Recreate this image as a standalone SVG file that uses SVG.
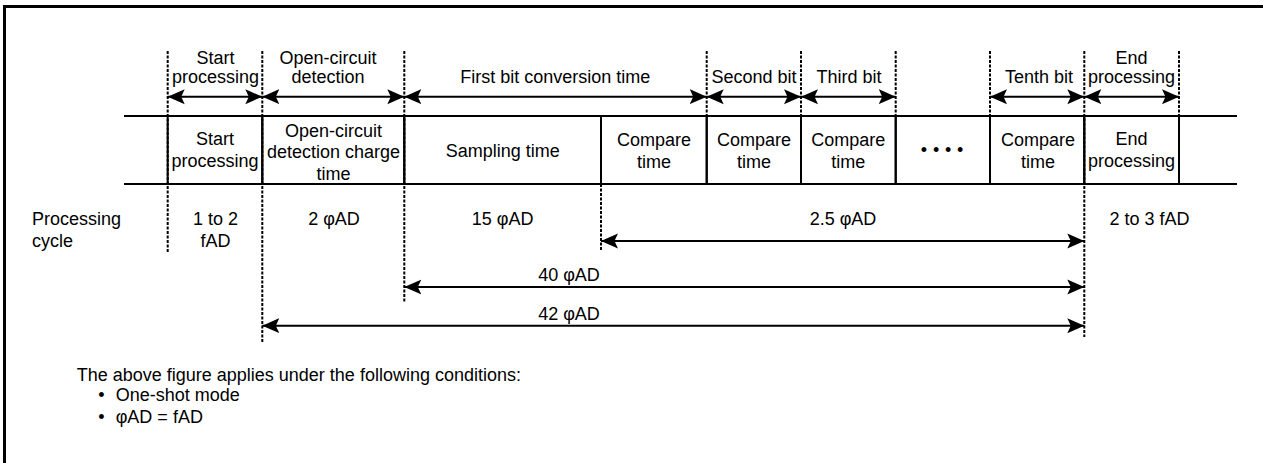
<svg xmlns="http://www.w3.org/2000/svg" width="1263" height="463" viewBox="0 0 1263 463">
<defs>
<style>
text{font-family:"Liberation Sans",Arial,sans-serif;font-size:18px;fill:#000}
.c{text-anchor:middle}
.dash{stroke:#000;stroke-width:2;stroke-dasharray:3 1.5;fill:none}
.solid{stroke:#000;stroke-width:2;fill:none}
.arr{stroke:#000;stroke-width:2;fill:none;marker-start:url(#ah);marker-end:url(#ah)}
</style>
<marker id="ah" markerUnits="userSpaceOnUse" markerWidth="18" markerHeight="16" refX="17" refY="8" orient="auto-start-reverse" viewBox="0 0 18 16">
<path d="M0,0.5 L17,8 L0,15.5 L3.5,8 Z" fill="#000"/>
</marker>
</defs>
<rect width="1263" height="463" fill="#fff"/>
<path d="M4.5,463 V6.5 H1263" stroke="#000" stroke-width="3" fill="none"/>

<g id="guides">
<line class="dash" x1="167.7" y1="51" x2="167.7" y2="252"/>
<line class="dash" x1="262.3" y1="51" x2="262.3" y2="342"/>
<line class="dash" x1="404.3" y1="51" x2="404.3" y2="303"/>
<line class="dash" x1="601" y1="184" x2="601" y2="251"/>
<line class="dash" x1="706.7" y1="51" x2="706.7" y2="116"/>
<line class="dash" x1="801" y1="51" x2="801" y2="116"/>
<line class="dash" x1="895.7" y1="51" x2="895.7" y2="116"/>
<line class="dash" x1="990" y1="51" x2="990" y2="116"/>
<line class="dash" x1="1084.3" y1="51" x2="1084.3" y2="337"/>
<line class="dash" x1="1179" y1="51" x2="1179" y2="116"/>
</g>

<g id="cells">
<g id="cell-start"><rect x="167.7" y="116" width="94.6" height="68" fill="#fff" class="solid"/><text class="c" x="215" y="145">Start</text><text class="c" x="215" y="167">processing</text></g>
<g id="cell-open"><rect x="262.3" y="116" width="142" height="68" fill="#fff" class="solid"/><text class="c" x="333.5" y="136.5">Open-circuit</text><text class="c" x="333.5" y="158">detection charge</text><text class="c" x="333.5" y="179.5">time</text></g>
<g id="cell-sampling"><rect x="404.3" y="116" width="196.7" height="68" fill="#c0c0c0" class="solid"/><text class="c" x="502.7" y="157">Sampling time</text></g>
<g id="cell-cmp1"><rect x="601" y="116" width="105.7" height="68" fill="#fff" class="solid"/><text class="c" x="654" y="146">Compare</text><text class="c" x="654" y="168">time</text></g>
<g id="cell-cmp2"><rect x="706.7" y="116" width="94.3" height="68" fill="#fff" class="solid"/><text class="c" x="754" y="146">Compare</text><text class="c" x="754" y="168">time</text></g>
<g id="cell-cmp3"><rect x="801" y="116" width="94.7" height="68" fill="#fff" class="solid"/><text class="c" x="848.3" y="146">Compare</text><text class="c" x="848.3" y="168">time</text></g>
<g id="cell-dots"><rect x="895.7" y="116" width="94.3" height="68" fill="#fff" class="solid"/><text class="c" x="945" y="156" font-size="12" letter-spacing="5.8">••••</text></g>
<g id="cell-cmp10"><rect x="990" y="116" width="94.3" height="68" fill="#fff" class="solid"/><text class="c" x="1038" y="146">Compare</text><text class="c" x="1038" y="168">time</text></g>
<g id="cell-end"><rect x="1084.3" y="116" width="94.7" height="68" fill="#fff" class="solid"/><text class="c" x="1131.5" y="145">End</text><text class="c" x="1131.5" y="167">processing</text></g>
<line class="solid" x1="124" y1="116" x2="1237" y2="116"/>
<line class="solid" x1="124" y1="184" x2="1237" y2="184"/>
</g>

<g id="connectors">
<line class="arr" x1="167.7" y1="96.7" x2="262.3" y2="96.7"/>
<line class="arr" x1="262.3" y1="96.7" x2="404.3" y2="96.7"/>
<line class="arr" x1="404.3" y1="96.7" x2="706.7" y2="96.7"/>
<line class="arr" x1="706.7" y1="96.7" x2="801" y2="96.7"/>
<line class="arr" x1="801" y1="96.7" x2="895.7" y2="96.7"/>
<line class="arr" x1="990" y1="96.7" x2="1084.3" y2="96.7"/>
<line class="arr" x1="1084.3" y1="96.7" x2="1179" y2="96.7"/>
<line class="arr" x1="601" y1="241" x2="1084.3" y2="241"/>
<line class="arr" x1="404.3" y1="287" x2="1084.3" y2="287"/>
<line class="arr" x1="262.3" y1="325.7" x2="1084.3" y2="325.7"/>
</g>

<g id="phase-labels">
<g id="lbl-start"><text class="c" x="215.5" y="63.5">Start</text><text class="c" x="215.5" y="83">processing</text></g>
<g id="lbl-open"><text class="c" x="328" y="63.5">Open-circuit</text><text class="c" x="328" y="83">detection</text></g>
<g id="lbl-first"><text class="c" x="555.2" y="83">First bit conversion time</text></g>
<g id="lbl-second"><text class="c" x="754" y="83">Second bit</text></g>
<g id="lbl-third"><text class="c" x="849" y="83">Third bit</text></g>
<g id="lbl-tenth"><text class="c" x="1039" y="83">Tenth bit</text></g>
<g id="lbl-end"><text class="c" x="1131.5" y="63.5">End</text><text class="c" x="1131.5" y="83">processing</text></g>
</g>

<g id="cycle-labels">
<g id="lbl-cycle"><text x="32" y="225">Processing</text><text x="32" y="246.5">cycle</text></g>
<g id="lbl-c1"><text class="c" x="215.5" y="225">1 to 2</text><text class="c" x="215.5" y="246.5">fAD</text></g>
<g id="lbl-c2"><text class="c" x="334" y="225">2 φAD</text></g>
<g id="lbl-c15"><text class="c" x="502.7" y="225">15 φAD</text></g>
<g id="lbl-c25"><text class="c" x="843" y="225">2.5 φAD</text></g>
<g id="lbl-c23"><text class="c" x="1149.5" y="225">2 to 3 fAD</text></g>
<g id="lbl-c40"><text class="c" x="569" y="281">40 φAD</text></g>
<g id="lbl-c42"><text class="c" x="569" y="319.5">42 φAD</text></g>
</g>

<g id="notes">
<text x="76.7" y="380.5">The above figure applies under the following conditions:</text>
<text x="98.3" y="401">•</text><text x="115.7" y="401">One-shot mode</text>
<text x="98.3" y="423">•</text><text x="115.7" y="423">φAD = fAD</text>
</g>
</svg>
